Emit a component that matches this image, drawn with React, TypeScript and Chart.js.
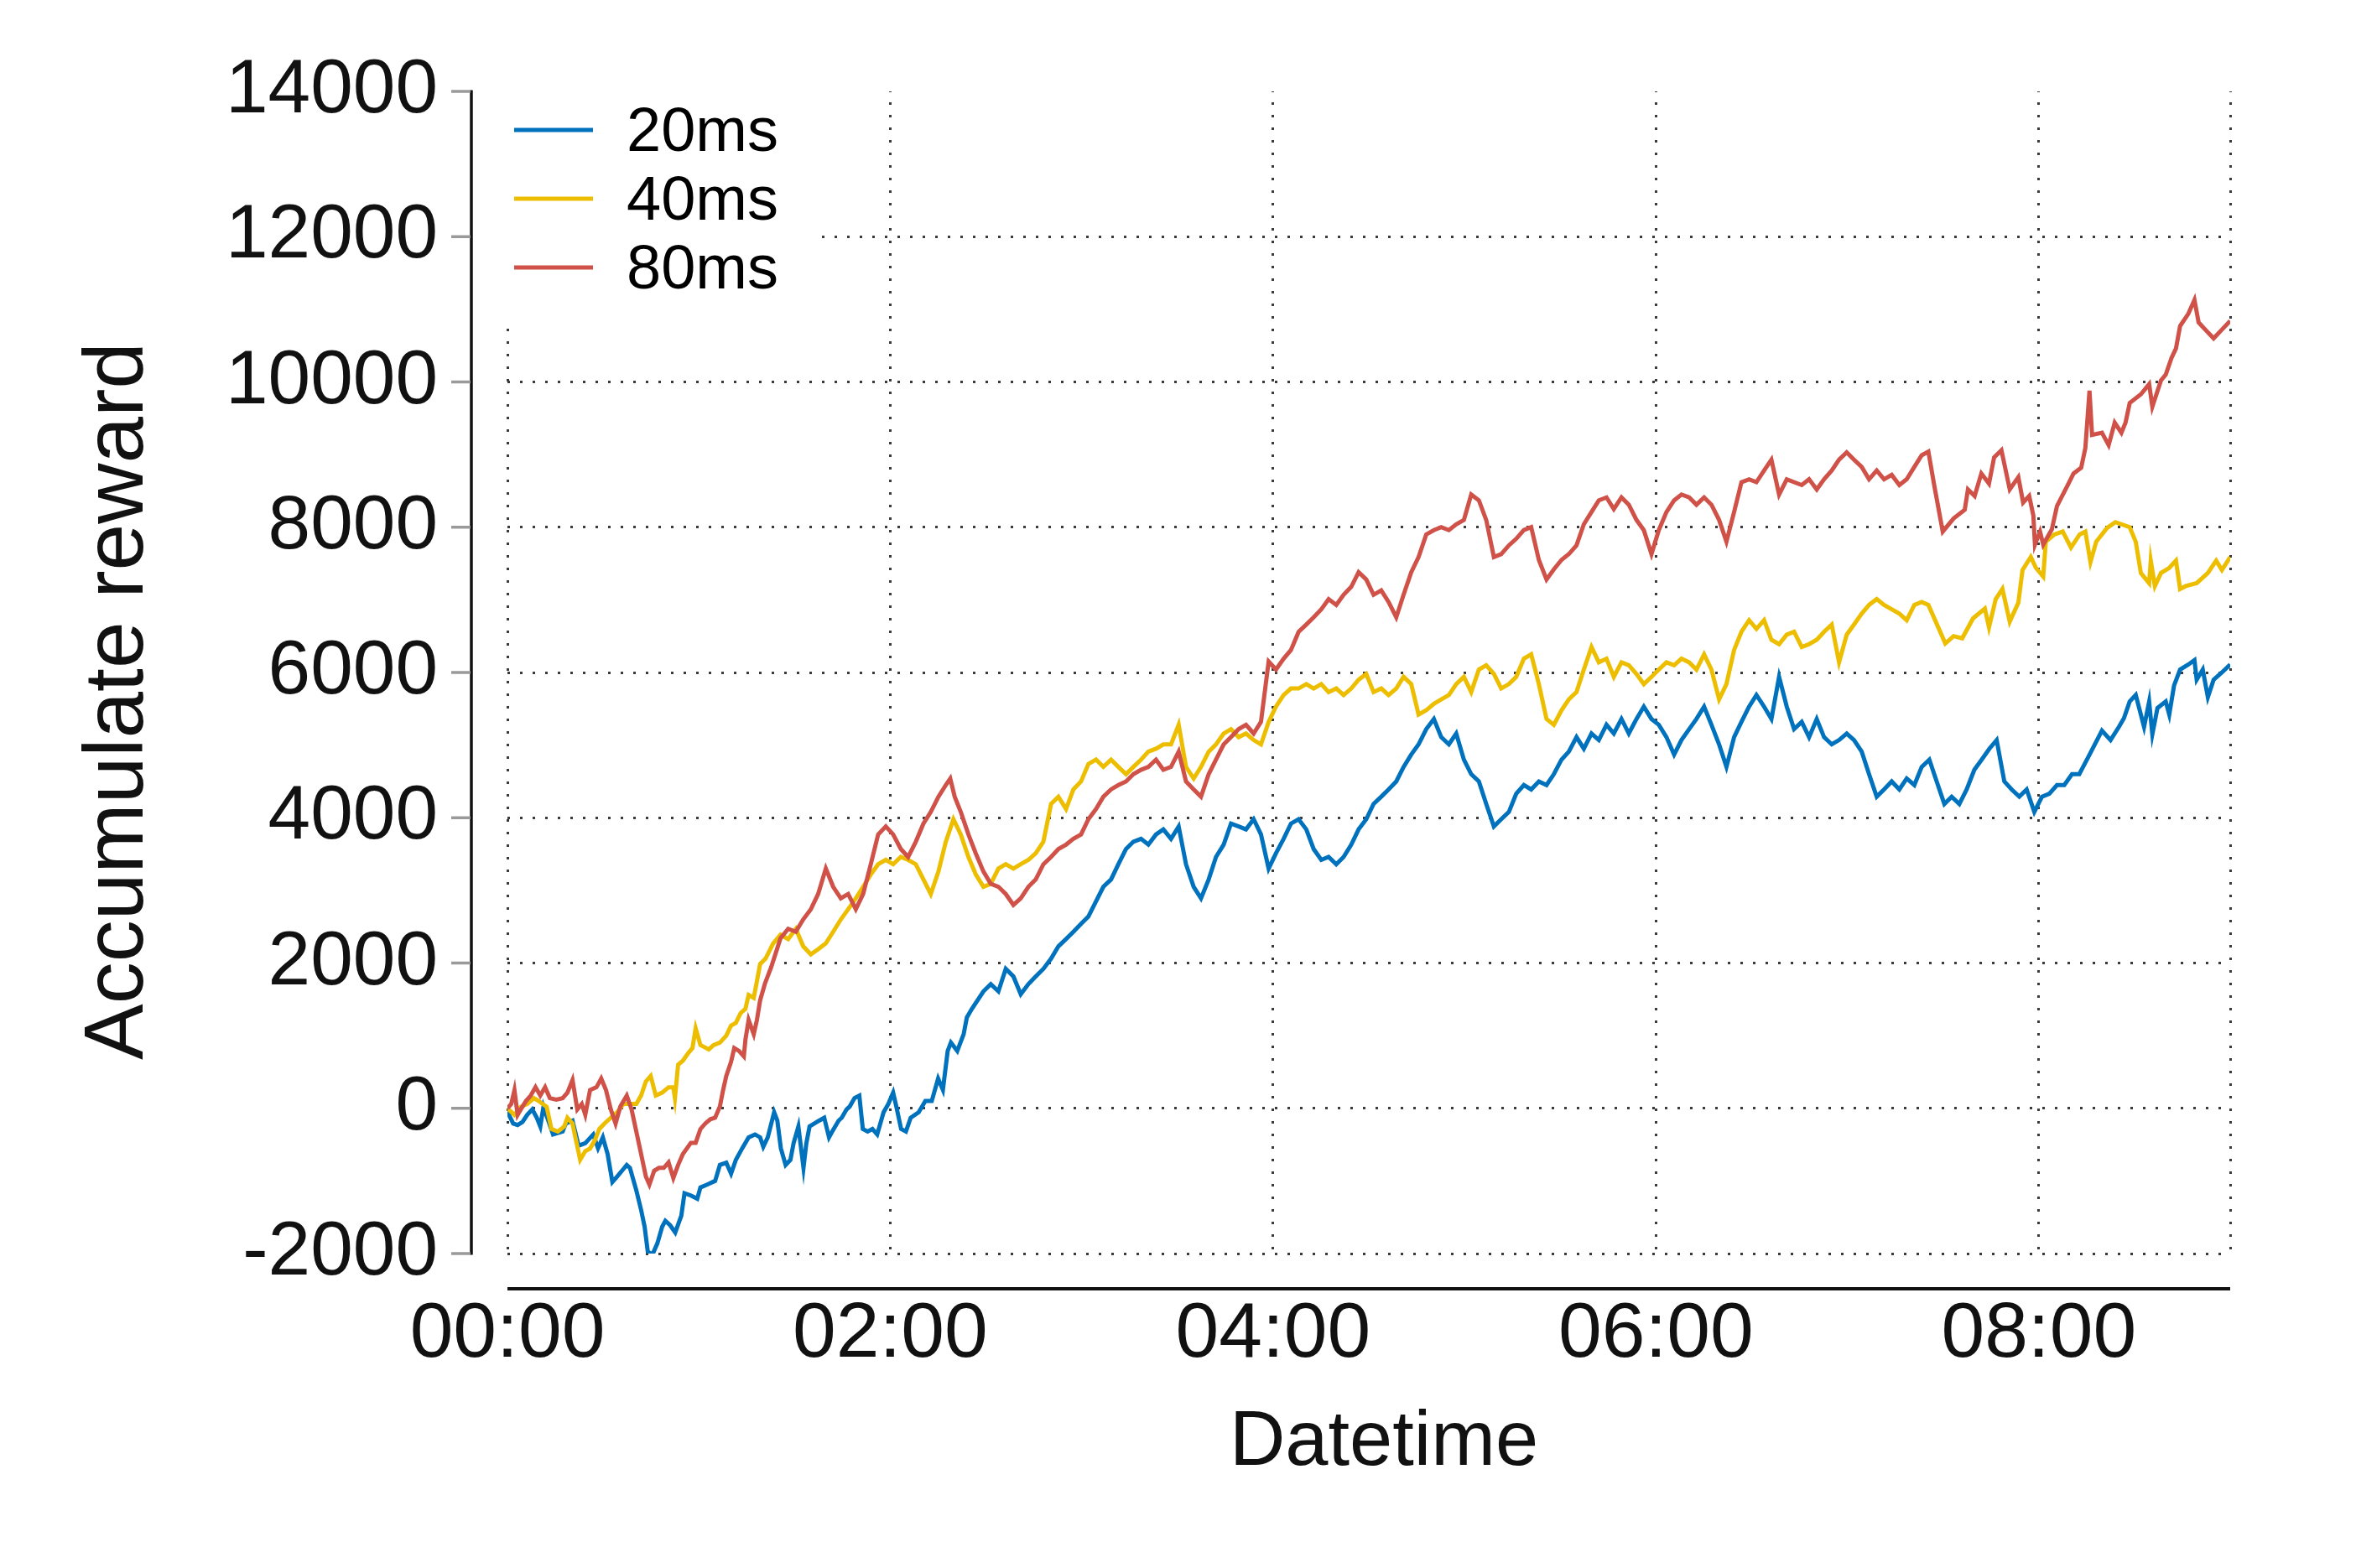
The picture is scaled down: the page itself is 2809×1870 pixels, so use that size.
import React, { useEffect, useRef } from 'react';
import { Chart, registerables } from 'chart.js';

Chart.register(...registerables);

// ---------------- data ----------------
const SERIES_LABELS = ['20ms', '40ms', '80ms'];
const SERIES_COLORS = ['#0072BD', '#EDBE00', '#CF5148'];
const X_TICKS = [0, 120, 240, 360, 480, 540]; // minutes
const Y_TICKS = [-2000, 0, 2000, 4000, 6000, 8000, 10000, 12000, 14000];
const X_TITLE = 'Datetime';
const Y_TITLE = 'Accumulate reward';

// 20ms (minutes since 00:00, accumulated reward)
const blueMinutes = [
  0, 0.7, 1.8, 3.2, 4.7, 6.2, 7.8, 9.2, 10.3, 11.3, 14.3, 17.3, 18.3, 20.4, 22.3, 24.4, 26.9, 28.4, 29.9, 31.4,
  32.9, 34.4, 35.9, 37.4, 38.4, 40.4, 41.9, 43, 44, 45.5, 47, 48.5, 49.5, 51, 52.6, 54.5, 55.5, 57.5, 59.5, 60.5,
  62.6, 65.1, 66.6, 68.6, 70.1, 71.6, 73.6, 75.6, 77.6, 79.2, 80.2, 81.6, 83.6, 84.6, 85.7, 87.2, 88.7, 89.7, 91.2, 92.8,
  93.7, 94.7, 96.2, 97.7, 99.3, 100.8, 101.8, 103.8, 104.8, 106.3, 107.3, 108.8, 110.3, 111.4, 112.9, 114.4, 115.9, 117.9, 119.4, 120.9,
  121.9, 123.4, 124.9, 126.4, 128.9, 131, 133, 135, 136.5, 138, 139, 141, 143, 144, 145.6, 149.2, 151.5, 153.9, 156.2, 158.6,
  160.9, 163.3, 165.6, 168, 170.4, 172.7, 175.1, 177.4, 179.8, 182.1, 184.5, 186.8, 189.2, 191.5, 193.9, 196.2, 198.6, 200.9, 203.3, 205.6,
  208, 210.4, 212.7, 215.1, 217.4, 219.8, 222.1, 224.5, 226.8, 229.2, 231.5, 233.9, 236.2, 238.6, 240.9, 243.3, 245.6, 248, 250.4, 252.7,
  255.1, 257.4, 259.8, 262.1, 264.5, 266.8, 269.2, 271.5, 273.9, 276.2, 278.6, 280.9, 283.3, 285.6, 288, 290.4, 292.7, 295.1, 297.4, 299.8,
  302.1, 304.5, 306.8, 309.2, 311.5, 313.9, 316.2, 318.6, 320.9, 323.3, 325.7, 328, 330.4, 332.7, 335.1, 337.4, 339.8, 342.1, 344.5, 346.8,
  349.2, 351.5, 353.9, 356.2, 358.6, 360.9, 363.3, 365.7, 368, 370.4, 372.7, 375.1, 377.4, 379.8, 382.1, 384.5, 386.8, 389.2, 391.5, 393.9,
  396.2, 398.6, 401, 403.3, 405.7, 408, 410.4, 412.7, 415.1, 417.4, 419.8, 422.1, 424.5, 426.8, 429.2, 431.5, 433.9, 436.3, 438.6, 441,
  443.3, 445.7, 448, 450.4, 452.7, 455.1, 457.4, 459.8, 462.1, 464.5, 466.8, 469.2, 471.5, 473.9, 476.2, 478.6, 481, 483.3, 485.7, 488,
  490.4, 492.7, 495.1, 499.8, 502.5, 505.1, 506.7, 508.5, 510.4, 513, 514.6, 515.6, 517.2, 519.8, 520.9, 522.4, 524.3, 526.9, 528.8, 529.5,
  531.4, 533, 534.8, 537.4, 540,
];
const blueValues = [
  0, -110, -210, -230, -190, -90, -15, -130, -250, 20, -360, -320, -210, -170, -515, -480, -360, -550, -400, -630,
  -1015, -940, -860, -780, -820, -1130, -1400, -1630, -1975, -2010, -1860, -1630, -1550, -1610, -1710, -1480, -1170, -1200, -1245, -1090,
  -1050, -1000, -780, -750, -900, -710, -550, -400, -360, -400, -530, -400, -55, -170, -550, -780, -710, -480, -250, -820,
  -480, -250, -210, -170, -130, -400, -320, -170, -130, -15, 25, 140, 175, -285, -320, -285, -360, -55, 60, 215,
  25, -285, -320, -130, -55, 100, 100, 410, 255, 790, 905, 790, 1020, 1250, 1370, 1610, 1710, 1610, 1920, 1815,
  1570, 1710, 1815, 1920, 2060, 2230, 2330, 2430, 2540, 2640, 2850, 3050, 3150, 3360, 3570, 3670, 3710, 3630, 3770, 3840,
  3710, 3880, 3360, 3050, 2890, 3150, 3460, 3630, 3920, 3880, 3840, 3980, 3770, 3300, 3510, 3710, 3920, 3980, 3840, 3570,
  3420, 3460, 3360, 3460, 3630, 3840, 3980, 4190, 4290, 4390, 4500, 4700, 4870, 5010, 5220, 5360, 5110, 5010, 5160, 4800,
  4600, 4500, 4190, 3880, 3980, 4080, 4330, 4450, 4390, 4500, 4450, 4600, 4800, 4910, 5110, 4950, 5160, 5070, 5280, 5160,
  5360, 5160, 5360, 5530, 5360, 5280, 5110, 4870, 5070, 5220, 5360, 5530, 5280, 5010, 4700, 5110, 5320, 5530, 5690, 5530,
  5360, 5940, 5530, 5220, 5320, 5110, 5360, 5110, 5010, 5070, 5160, 5070, 4910, 4600, 4290, 4390, 4500, 4390, 4540, 4450,
  4700, 4800, 4500, 4190, 4290, 4190, 4390, 4660, 4800, 4950, 5070, 4500, 4390, 4290, 4390, 4080, 4290, 4330, 4450, 4450,
  4600, 4600, 4800, 5200, 5070, 5250, 5370, 5600, 5690, 5250, 5600, 5150, 5510, 5600, 5420, 5820, 6040, 6110, 6170, 5900,
  6040, 5660, 5900, 6000, 6110,
];

// 40ms
const yellowMinutes = [
  0, 2.2, 4.2, 6.2, 8.3, 9.8, 12.3, 13.8, 15.8, 17.8, 18.8, 20.4, 21.3, 22.8, 24.4, 25.9, 27.4, 28.8, 30.4, 32.4,
  34.4, 36.4, 40.4, 41.9, 43.4, 44.9, 46.5, 48.5, 50.5, 52, 52.5, 53.5, 55, 56.5, 58, 59, 60.5, 63.1, 64.6, 66.6,
  68.6, 70.1, 71.6, 73.1, 74.6, 75.6, 77.2, 78.2, 79.2, 80.9, 83.3, 85.6, 88, 90.4, 92.7, 95.1, 97.4, 99.8, 102.1, 104.5,
  106.8, 109.2, 111.5, 113.9, 116.2, 118.6, 120.9, 123.3, 125.6, 128, 130.4, 132.7, 135.1, 137.4, 139.8, 142.1, 144.5, 146.8, 149.2, 151.5,
  153.9, 156.2, 158.6, 160.9, 163.3, 165.6, 168, 170.4, 172.7, 175.1, 177.4, 179.8, 182.1, 184.5, 186.8, 189.2, 191.5, 193.9, 196.2, 198.6,
  200.9, 203.3, 205.6, 208, 210.4, 212.7, 215.1, 217.4, 219.8, 222.1, 224.5, 226.8, 229.2, 231.5, 233.9, 236.2, 238.6, 240.9, 243.3, 245.6,
  248, 250.4, 252.7, 255.1, 257.4, 259.8, 262.1, 264.5, 266.8, 269.2, 271.5, 273.9, 276.2, 278.6, 280.9, 283.3, 285.6, 288, 290.4, 292.7,
  295.1, 297.4, 299.8, 302.1, 304.5, 306.8, 309.2, 311.5, 313.9, 316.2, 318.6, 320.9, 323.3, 325.7, 328, 330.4, 332.7, 335.1, 337.4, 339.8,
  342.1, 344.5, 346.8, 349.2, 351.5, 353.9, 356.2, 358.6, 360.9, 363.3, 365.7, 368, 370.4, 372.7, 375.1, 377.4, 379.8, 382.1, 384.5, 386.8,
  389.2, 391.5, 393.9, 396.2, 398.6, 401, 403.3, 405.7, 408, 410.4, 412.7, 415.1, 417.4, 419.8, 422.1, 424.5, 426.8, 429.2, 431.5, 433.9,
  436.3, 438.6, 441, 443.3, 445.4, 450.7, 453.3, 456, 459.4, 463.1, 464.4, 466.5, 468.6, 470.9, 473.6, 474.9, 477.5, 479.1, 481.4, 482.2,
  484.9, 487.5, 490.1, 492.8, 494.6, 496.2, 498, 501.4, 504, 508.5, 510.4, 512, 514.6, 515.1, 516.4, 518.3, 520.9, 523, 524.3, 526.1,
  529.5, 533, 535.6, 537.4, 540,
];
const yellowValues = [
  0, -90, 20, 60, 140, 100, 20, -285, -320, -250, -130, -210, -400, -710, -590, -555, -440, -285, -210, -130,
  -55, 60, 60, 175, 370, 445, 175, 215, 290, 290, 140, 600, 655, 750, 830, 1100, 870, 810, 870, 905,
  1000, 1140, 1175, 1310, 1370, 1560, 1520, 1750, 1985, 2060, 2270, 2390, 2330, 2470, 2230, 2120, 2190, 2270, 2430, 2600,
  2740, 2890, 3050, 3220, 3360, 3420, 3360, 3460, 3420, 3360, 3150, 2950, 3260, 3670, 3980, 3770, 3460, 3220, 3050, 3090,
  3300, 3360, 3300, 3360, 3420, 3510, 3670, 4190, 4290, 4120, 4390, 4500, 4740, 4800, 4700, 4800, 4700, 4600, 4700, 4800,
  4910, 4950, 5010, 5010, 5280, 4700, 4540, 4700, 4910, 5010, 5160, 5220, 5110, 5160, 5070, 5010, 5320, 5530, 5690, 5780,
  5780, 5840, 5780, 5840, 5730, 5780, 5690, 5780, 5900, 5980, 5730, 5780, 5690, 5780, 5940, 5840, 5420, 5480, 5570, 5630,
  5690, 5840, 5940, 5730, 6040, 6100, 5980, 5780, 5840, 5940, 6190, 6250, 5840, 5360, 5280, 5480, 5630, 5730, 6040, 6350,
  6140, 6190, 5940, 6140, 6100, 5980, 5840, 5940, 6040, 6140, 6100, 6190, 6140, 6040, 6250, 6040, 5630, 5840, 6310, 6560,
  6720, 6600, 6720, 6450, 6390, 6520, 6560, 6350, 6390, 6450, 6560, 6660, 6140, 6520, 6660, 6810, 6930, 7010, 6930, 6870,
  6810, 6720, 6930, 6970, 6930, 6400, 6500, 6470, 6745, 6880, 6620, 7010, 7150, 6700, 6960, 7410, 7590, 7440, 7320, 7800,
  7900, 7940, 7720, 7900, 7940, 7520, 7800, 7990, 8070, 8000, 7800, 7370, 7230, 7540, 7190, 7370, 7440, 7540, 7150, 7190,
  7230, 7370, 7540, 7410, 7590,
];

// 80ms
const redMinutes = [
  0, 1.2, 2.2, 3.2, 4.2, 5.8, 7.3, 8.8, 10.3, 11.8, 13.3, 15.3, 17.3, 18.8, 20.4, 21.9, 23.3, 24.4, 25.9, 27.9,
  29.4, 30.9, 32.4, 33.9, 35.4, 37.4, 38.9, 40.4, 41.9, 43.4, 44.5, 46, 47.5, 49, 50.5, 52, 53.5, 55, 57.5, 59,
  60.5, 62, 63.6, 65.1, 66.6, 67.6, 68.6, 70.1, 71.1, 72.6, 74.1, 74.6, 75.6, 77.2, 78.2, 79.2, 80.7, 82.7, 85.6, 88,
  90.4, 92.7, 95.1, 97.4, 99.8, 102.1, 104.5, 106.8, 109.2, 111.5, 113.9, 116.2, 118.6, 120.9, 123.3, 125.6, 128, 130.4, 132.7, 135.1,
  137.4, 138.8, 140.2, 142.1, 144.5, 146.8, 149.2, 151.5, 153.9, 156.2, 158.6, 160.9, 163.3, 165.6, 168, 170.4, 172.7, 175.1, 177.4, 179.8,
  182.1, 184.5, 186.8, 189.2, 191.5, 193.9, 196.2, 198.6, 200.9, 203.3, 205.6, 208, 210.4, 212.7, 215.1, 217.4, 219.8, 222.1, 224.5, 226.8,
  229.2, 231.5, 233.9, 236.2, 238.6, 240.9, 243.3, 245.6, 248, 250.4, 252.7, 255.1, 257.4, 259.8, 262.1, 264.5, 266.8, 269.2, 271.5, 273.9,
  276.2, 278.6, 280.9, 283.3, 285.6, 288, 290.4, 292.7, 295.1, 297.4, 299.8, 302.1, 304.5, 306.8, 309.2, 311.5, 313.9, 316.2, 318.6, 320.9,
  323.3, 325.7, 328, 330.4, 332.7, 335.1, 337.4, 339.8, 342.1, 344.5, 346.8, 349.2, 351.5, 353.9, 356.2, 358.6, 360.9, 363.3, 365.7, 368,
  370.4, 372.7, 375.1, 377.4, 379.8, 382.1, 384.5, 386.8, 389.2, 391.5, 393.9, 396.2, 398.6, 401, 403.3, 405.7, 408, 410.4, 412.7, 415.1,
  417.4, 419.8, 422.1, 424.5, 426.8, 429.2, 431.5, 433.9, 436.3, 438.6, 441, 443.3, 445.4, 447.3, 449.9, 453.3, 456.8, 457.8, 459.9, 462,
  464.4, 466, 468.3, 470.9, 473.6, 475.1, 477, 478.3, 478.8, 480.4, 481.4, 484.1, 485.7, 489.3, 490.9, 493.3, 494.6, 495.9, 496.7, 499.8,
  501.9, 503.8, 505.9, 507.2, 508.5, 512, 514.6, 515.6, 518.3, 519.8, 521.6, 523, 524.3, 526.9, 528.8, 530.1, 532.2, 534.8, 537.4, 540,
];
const redValues = [
  0, 60, 250, -90, -15, 100, 175, 290, 175, 290, 140, 120, 140, 215, 390, -15, 60, -90, 250, 290,
  410, 250, -15, -210, 25, 175, -15, -320, -630, -940, -1050, -860, -820, -820, -745, -960, -780, -630, -475, -475,
  -285, -210, -150, -130, 25, 250, 445, 640, 830, 790, 715, 945, 1215, 1020, 1215, 1485, 1715, 1945, 2340, 2470,
  2430, 2600, 2740, 2950, 3300, 3050, 2890, 2950, 2740, 2950, 3360, 3770, 3880, 3770, 3570, 3460, 3670, 3920, 4080, 4290,
  4450, 4540, 4290, 4080, 3770, 3510, 3260, 3090, 3050, 2950, 2800, 2890, 3050, 3150, 3360, 3460, 3570, 3630, 3710, 3770,
  3980, 4120, 4290, 4390, 4450, 4500, 4600, 4660, 4700, 4800, 4660, 4700, 4910, 4500, 4390, 4290, 4600, 4800, 5010, 5110,
  5220, 5280, 5160, 5320, 6150, 6040, 6190, 6310, 6560, 6660, 6760, 6870, 7010, 6930, 7070, 7180, 7380, 7280, 7070, 7130,
  6970, 6760, 7070, 7380, 7590, 7900, 7960, 8000, 7960, 8040, 8100, 8450, 8370, 8100, 7590, 7630, 7750, 7840, 7960, 8000,
  7550, 7280, 7420, 7550, 7630, 7750, 8040, 8210, 8370, 8410, 8250, 8410, 8310, 8100, 7960, 7630, 7960, 8210, 8370, 8450,
  8410, 8310, 8410, 8310, 8100, 7800, 8210, 8620, 8660, 8620, 8780, 8930, 8450, 8660, 8620, 8580, 8660, 8520, 8660, 8780,
  8930, 9030, 8930, 8830, 8660, 8780, 8660, 8720, 8580, 8660, 8830, 8990, 9040, 8560, 7940, 8120, 8240, 8520, 8430, 8740,
  8600, 8960, 9060, 8520, 8690, 8340, 8430, 8160, 7760, 7940, 7760, 7970, 8290, 8600, 8740, 8820, 9090, 9880, 9270, 9300,
  9130, 9440, 9300, 9440, 9710, 9830, 9970, 9660, 10020, 10100, 10330, 10460, 10770, 10940, 11130, 10820, 10720, 10600, 10720, 10840,
];

const SERIES_MINUTES = [blueMinutes, yellowMinutes, redMinutes];
const SERIES_VALUES = [blueValues, yellowValues, redValues];

// ---------------- style / layout ----------------
const W = 2809;
const H = 1870;
const FONT = "'Liberation Sans', Arimo, Arial, Helvetica, sans-serif";
const INK = '#111111';
const DOT = '#3a3a3a';

function fmtTime(m: number): string {
  const h = Math.round(m / 60);
  return (h < 10 ? '0' : '') + h + ':00';
}

function zeroPadding(s: any) {
  s.paddingTop = 0;
  s.paddingBottom = 0;
  s.paddingLeft = 0;
  s.paddingRight = 0;
}

const decorPlugin = {
  id: 'decor',
  beforeDatasetsDraw(chart: any) {
    const { ctx, chartArea } = chart;
    // legend background (covers grid like an opaque legend box)
    ctx.save();
    ctx.fillStyle = '#ffffff';
    ctx.fillRect(chartArea.left - 3, chartArea.top - 10, 373, 286);
    ctx.restore();
  },
  afterDraw(chart: any) {
    const { ctx, chartArea, scales } = chart;
    const xs = scales.x;
    const ys = scales.y;
    ctx.save();
    // legend
    const lx0 = chartArea.left + 8;
    const lx1 = chartArea.left + 102;
    const ly0 = chartArea.top + 46;
    const lStep = 82;
    ctx.font = `74px ${FONT}`;
    ctx.textBaseline = 'middle';
    ctx.textAlign = 'left';
    SERIES_LABELS.forEach((lab, i) => {
      const y = ly0 + i * lStep;
      ctx.strokeStyle = SERIES_COLORS[i];
      ctx.lineWidth = 5;
      ctx.lineCap = 'butt';
      ctx.beginPath();
      ctx.moveTo(lx0, y);
      ctx.lineTo(lx1, y);
      ctx.stroke();
      ctx.fillStyle = '#000';
      ctx.fillText(lab, chartArea.left + 142, y + 5);
    });

    // offset y spine with outward gray ticks
    const spineX = chartArea.left - 43;
    const yTop = ys.getPixelForValue(Y_TICKS[Y_TICKS.length - 1]);
    const yBot = ys.getPixelForValue(Y_TICKS[0]);
    ctx.strokeStyle = INK;
    ctx.lineWidth = 3.5;
    ctx.beginPath();
    ctx.moveTo(spineX, yTop - 1.5);
    ctx.lineTo(spineX, yBot + 1.5);
    ctx.stroke();
    ctx.strokeStyle = '#9a9a9a';
    ctx.lineWidth = 3.5;
    Y_TICKS.forEach((v) => {
      const py = ys.getPixelForValue(v);
      ctx.beginPath();
      ctx.moveTo(spineX - 24, py);
      ctx.lineTo(spineX - 1, py);
      ctx.stroke();
    });

    // offset x spine
    const spineY = chartArea.bottom + 42;
    ctx.strokeStyle = INK;
    ctx.lineWidth = 4;
    ctx.beginPath();
    ctx.moveTo(xs.getPixelForValue(X_TICKS[0]), spineY);
    ctx.lineTo(xs.getPixelForValue(X_TICKS[X_TICKS.length - 1]), spineY);
    ctx.stroke();

    // axis titles
    ctx.fillStyle = INK;
    ctx.textBaseline = 'alphabetic';
    ctx.textAlign = 'center';
    ctx.font = `92px ${FONT}`;
    ctx.fillText(X_TITLE, 1650, 1747);
    ctx.translate(170, 836);
    ctx.rotate(-Math.PI / 2);
    ctx.font = `100px ${FONT}`;
    ctx.fillText(Y_TITLE, 0, 0);
    ctx.restore();
  },
};

export default function App() {
  const ref = useRef<HTMLCanvasElement | null>(null);

  useEffect(() => {
    if (!ref.current) return;
    const datasets = SERIES_LABELS.map((label, i) => ({
      label,
      data: SERIES_MINUTES[i].map((m, k) => ({ x: m, y: SERIES_VALUES[i][k] })),
      borderColor: SERIES_COLORS[i],
      backgroundColor: SERIES_COLORS[i],
      borderWidth: 5,
      borderJoinStyle: 'miter',
      pointRadius: 0,
      tension: 0,
      order: 2 - i,
    }));

    const chart = new Chart(ref.current, {
      type: 'line',
      data: { datasets },
      plugins: [decorPlugin],
      options: {
        animation: false,
        responsive: false,
        devicePixelRatio: 1,
        layout: { padding: { left: 0, top: 109, right: 150, bottom: 0 } },
        plugins: {
          legend: { display: false },
          tooltip: { enabled: false },
        },
        scales: {
          x: {
            type: 'linear',
            min: 0,
            max: 540,
            afterBuildTicks: (s: any) => {
              s.ticks = X_TICKS.map((v) => ({ value: v }));
            },
            afterFit: (s: any) => {
              s.height = H - 1495;
              zeroPadding(s);
            },
            grid: { color: DOT, lineWidth: 3, drawTicks: false },
            border: { display: false, dash: [3, 12], dashOffset: -13 },
            ticks: {
              autoSkip: false,
              maxRotation: 0,
              minRotation: 0,
              padding: 42,
              color: INK,
              font: { family: FONT, size: 93 },
              callback: (v: any) => (Number(v) === 540 ? '' : fmtTime(Number(v))),
            },
          },
          y: {
            type: 'linear',
            min: -2000,
            max: 14000,
            afterBuildTicks: (s: any) => {
              s.ticks = Y_TICKS.map((v) => ({ value: v }));
            },
            afterFit: (s: any) => {
              s.width = 605;
              zeroPadding(s);
            },
            grid: {
              color: (c: any) => (c.tick && c.tick.value === 14000 ? 'rgba(0,0,0,0)' : DOT),
              lineWidth: 3,
              drawTicks: false,
            },
            border: { display: false, dash: [3, 12] },
            ticks: {
              padding: 83,
              color: INK,
              font: { family: FONT, size: 91 },
              callback: (v: any) => String(v),
            },
          },
        },
      },
    } as any);
    return () => chart.destroy();
  }, []);

  return (
    <div style={{ position: 'absolute', left: 0, top: 0, width: W, height: H, background: '#fff' }}>
      <canvas ref={ref} width={W} height={H} style={{ display: 'block', width: W, height: H }} />
    </div>
  );
}
